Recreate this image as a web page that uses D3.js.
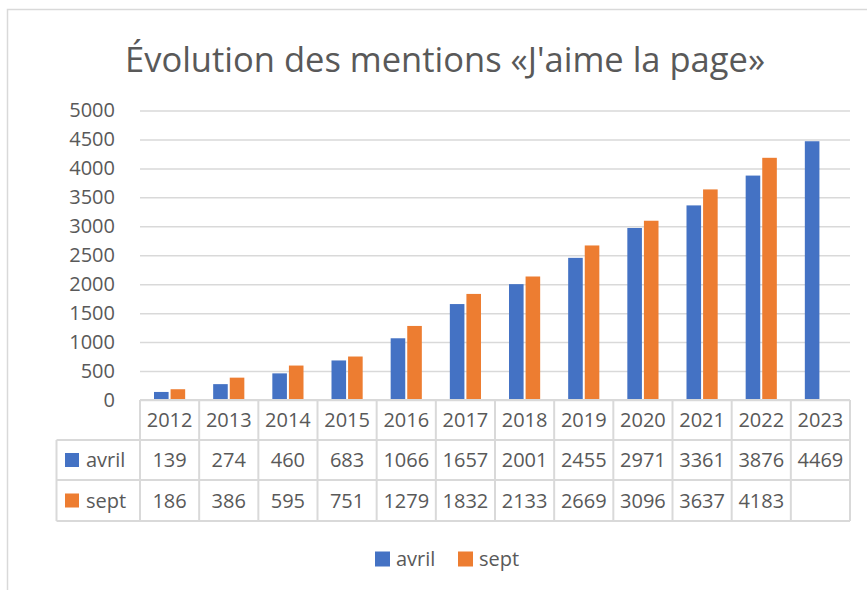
<!DOCTYPE html>
<html>
<head>
<meta charset="utf-8">
<script src="https://cdn.jsdelivr.net/npm/d3@7"></script>
<style>
  body { margin: 0; background: #fff; }
  svg { display: block; font-family: "Open Sans", sans-serif; }
</style>
</head>
<body>
<div id="chart"></div>
<script>
const years = ["2012", "2013", "2014", "2015", "2016", "2017", "2018", "2019", "2020", "2021", "2022", "2023"];
const avril = [139, 274, 460, 683, 1066, 1657, 2001, 2455, 2971, 3361, 3876, 4469];
const sept = [186, 386, 595, 751, 1279, 1832, 2133, 2669, 3096, 3637, 4183, null];
const seriesNames = ["avril", "sept"];
const yTicks = [0, 500, 1000, 1500, 2000, 2500, 3000, 3500, 4000, 4500, 5000];

const colors = { avril: "#4472C4", sept: "#ED7D31" };
const textColor = "#595959";
const gridColor = "#d9d9d9";

const width = 867, height = 590;
const svg = d3.select("#chart").append("svg")
  .attr("width", width)
  .attr("height", height);

// chart frame
svg.append("rect")
  .attr("x", 7.5).attr("y", 9.5)
  .attr("width", width).attr("height", height)
  .attr("fill", "#fff")
  .attr("stroke", gridColor)
  .attr("stroke-width", 1.5);

svg.append("text")
  .attr("x", 445).attr("y", 72)
  .attr("text-anchor", "middle")
  .attr("fill", textColor)
  .attr("font-size", 34.5)
  .text("Évolution des mentions «J'aime la page»");

const x = d3.scaleBand().domain(years).range([140, 850]);
const y = d3.scaleLinear().domain([0, 5000]).range([400, 110.5]);

// gridlines + y labels
const yAxis = d3.axisLeft(y).tickValues(yTicks).tickFormat(d3.format("d"))
  .tickSize(-(850 - 140)).tickPadding(25);
const gy = svg.append("g").attr("transform", "translate(140,0)").call(yAxis);
gy.select(".domain").remove();
gy.selectAll(".tick line").attr("stroke", gridColor).attr("stroke-width", 1.5);
gy.selectAll(".tick text")
  .attr("fill", textColor)
  .attr("font-size", 20)
  .attr("font-family", "Open Sans, sans-serif");

// bars
const inner = d3.scaleBand().domain(seriesNames).range([14, x.bandwidth() - 14]).paddingInner(0.12);
const data = { avril, sept };
seriesNames.forEach(name => {
  svg.append("g").selectAll("rect")
    .data(years.map((yr, i) => ({ yr, v: data[name][i] })).filter(d => d.v != null))
    .join("rect")
    .attr("x", d => x(d.yr) + inner(name))
    .attr("width", inner.bandwidth())
    .attr("y", d => y(d.v))
    .attr("height", d => y(0) - y(d.v))
    .attr("fill", colors[name]);
});

// data table
const rowY = [400, 440, 480, 521];
const tableLeft = 56.5;
const tbl = svg.append("g")
  .attr("stroke", gridColor)
  .attr("stroke-width", 2)
  .attr("fill", "none");
tbl.append("line").attr("x1", 140).attr("x2", 850).attr("y1", rowY[0]).attr("y2", rowY[0]);
rowY.slice(1).forEach(r => {
  tbl.append("line").attr("x1", tableLeft).attr("x2", 850).attr("y1", r).attr("y2", r);
});
tbl.append("line").attr("x1", tableLeft).attr("x2", tableLeft).attr("y1", rowY[1]).attr("y2", rowY[3]);
x.domain().concat([null]).forEach(yr => {
  const xv = yr == null ? 850 : x(yr);
  tbl.append("line").attr("x1", xv).attr("x2", xv).attr("y1", rowY[0]).attr("y2", rowY[3]);
});

const cellText = (sel) => sel
  .attr("text-anchor", "middle")
  .attr("fill", textColor)
  .attr("font-size", 20)
  .attr("dy", "0.35em");

svg.append("g").selectAll("text")
  .data(years).join("text")
  .attr("x", d => x(d) + x.bandwidth() / 2)
  .attr("y", (rowY[0] + rowY[1]) / 2)
  .call(cellText)
  .text(d => d);

seriesNames.forEach((name, r) => {
  const cy = (rowY[r + 1] + rowY[r + 2]) / 2;
  svg.append("rect")
    .attr("x", 65).attr("y", cy - 7)
    .attr("width", 14).attr("height", 14)
    .attr("fill", colors[name]);
  svg.append("text")
    .attr("x", 86).attr("y", cy)
    .attr("dy", "0.35em")
    .attr("fill", textColor)
    .attr("font-size", 20)
    .text(name);
  svg.append("g").selectAll("text")
    .data(years.map((yr, i) => ({ yr, v: data[name][i] })).filter(d => d.v != null))
    .join("text")
    .attr("x", d => x(d.yr) + x.bandwidth() / 2)
    .attr("y", cy)
    .call(cellText)
    .text(d => d.v);
});

// legend
const legend = svg.append("g").attr("transform", "translate(375,559)");
const legendX = [0, 83];
seriesNames.forEach((name, i) => {
  legend.append("rect")
    .attr("x", legendX[i]).attr("y", -7.5)
    .attr("width", 15).attr("height", 15)
    .attr("fill", colors[name]);
  legend.append("text")
    .attr("x", legendX[i] + 21).attr("y", 0)
    .attr("dy", "0.35em")
    .attr("fill", textColor)
    .attr("font-size", 20)
    .text(name);
});
</script>
</body>
</html>
